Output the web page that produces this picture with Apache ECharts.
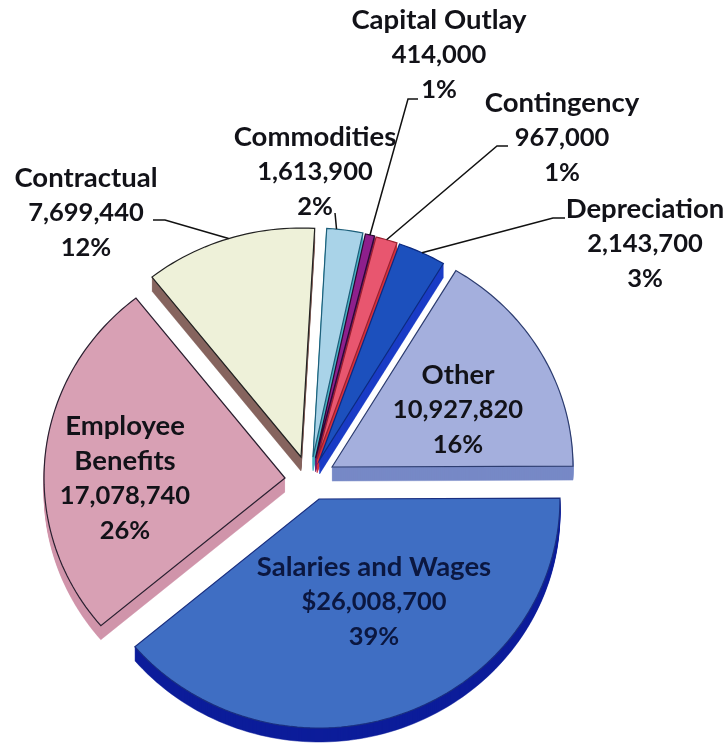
<!DOCTYPE html>
<html>
<head>
<meta charset="utf-8">
<style>html,body{margin:0;padding:0;background:#fff}#c{width:728px;height:744px}</style>
<script src="https://cdn.jsdelivr.net/npm/echarts@6/dist/echarts.min.js"></script>
</head>
<body>
<div id="c"></div>
<script>
// Data (in drawing order, clockwise)
const categories = ['Contractual','Commodities','Capital Outlay','Contingency','Depreciation','Other','Salaries and Wages','Employee Benefits'];
const values = [7699440,1613900,414000,967000,2143700,10927820,26008700,17078740];
const valueLabels = ['7,699,440','1,613,900','414,000','967,000','2,143,700','10,927,820','$26,008,700','17,078,740'];
const percentLabels = ['12%','2%','1%','1%','3%','16%','39%','26%'];

// Styles and layout
const faceColors = ['#eef1d9','#a9d3e8','#8e1f8c','#e8566f','#1c50bd','#a4afdd','#3f6ec3','#d8a0b4'];
const rimColors  = ['#86655f','#49b3c4','#5a1068','#d8303c','#1a3cc6','#7789c6','#0c1d9a','#d094aa'];
const edgeColors = ['#222222','#1d5f7a','#2a0a30','#9a2030','#0c2a80','#2d3d70','#1a2f80','#2a2030'];
const sliceCenters = [[301,457],[313,457],[315.5,458],[317,459],[319.5,460],[332,467],[319,499],[285,478]];
const RX = 241, RY = 229, DEPTH = 14, START = 231.8;
const labelCenters = [[86,178],[315,137],[439,20],[562,103],[645,209],[458,375],[374,567],[125,426]];
const leaderStarts = [[[153,220],[165,220]],[[335,213]],[[418,99],[408,99]],[[508,146],[497,146]],[[565,218],[553,218]],null,null,null];
const leaderAngleNudge = [0,-2,0,0,0,0,0,0];
const LINE = 35;
const total = values.reduce((a,b)=>a+b,0);

function renderItem(params, api){
  const i = params.dataIndex, v = api.value(0);
  let before = 0;
  for(let k=0;k<i;k++) before += values[k];
  const a0 = START + before/total*360, a1 = a0 + v/total*360;
  const [cx,cy] = sliceCenters[i];
  const pts = [[cx,cy]];
  const n = Math.max(6, Math.ceil((a1-a0)/1.5));
  for(let k=0;k<=n;k++){
    const a = (a0+(a1-a0)*k/n)*Math.PI/180;
    pts.push([cx+RX*Math.cos(a), cy+RY*Math.sin(a)]);
  }
  const children = [];
  for(let d=DEPTH;d>=1;d--){
    children.push({type:'polygon',shape:{points:pts.map(p=>[p[0],p[1]+d])},
      style:{fill:rimColors[i],stroke:rimColors[i],lineWidth:0.5}});
  }
  children.push({type:'polygon',shape:{points:pts},
    style:{fill:faceColors[i],stroke:edgeColors[i],lineWidth:1.2}});
  if(leaderStarts[i]){
    const m = ((a0+a1)/2+leaderAngleNudge[i])*Math.PI/180;
    const end = [cx+RX*Math.cos(m), cy+RY*Math.sin(m)];
    children.push({type:'polyline',z2:50,shape:{points:leaderStarts[i].concat([end])},
      style:{fill:null,stroke:'#111',lineWidth:1.5}});
  }
  const name = categories[i]==='Employee Benefits' ? ['Employee','Benefits'] : [categories[i]];
  const lines = name.concat([valueLabels[i],percentLabels[i]]);
  lines.forEach((t,li)=>{
    const numeric = li >= name.length;
    children.push({type:'text',z2:100,style:{
      text:t,x:labelCenters[i][0],y:labelCenters[i][1]+li*LINE,
      align:'center',verticalAlign:'middle',
      font:'bold '+(numeric?25.5:27.5)+'px Lato, "Open Sans", sans-serif',
      fill:i===6?'#0b1740':'#121218'}});
  });
  return {type:'group',children};
}

const chart = echarts.init(document.getElementById('c'),null,{renderer:'canvas'});
chart.setOption({
  animation:false,
  backgroundColor:'#ffffff',
  tooltip:{show:false},
  series:[{
    type:'custom',
    coordinateSystem:'none',
    renderItem,
    silent:true,
    data:values.map((v,i)=>({name:categories[i],value:[v]}))
  }]
});
</script>
</body>
</html>
